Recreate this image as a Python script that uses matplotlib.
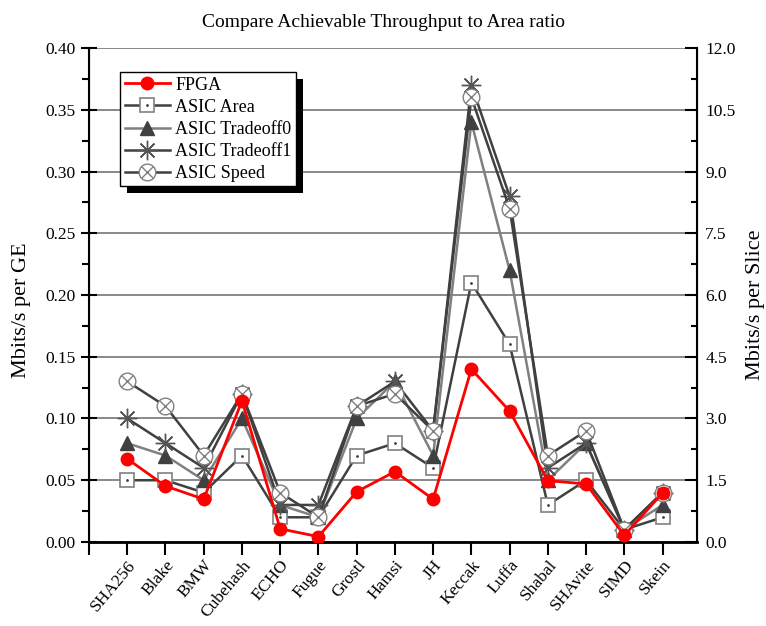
import numpy as np
import matplotlib.pyplot as plt
from matplotlib.ticker import MultipleLocator, FormatStrFormatter
from matplotlib.patches import Rectangle

plt.rcParams['font.family'] = ['Liberation Serif', 'DejaVu Serif']

algorithms = ['SHA256', 'Blake', 'BMW', 'Cubehash', 'ECHO', 'Fugue', 'Grostl',
              'Hamsi', 'JH', 'Keccak', 'Luffa', 'Shabal', 'SHAvite', 'SIMD', 'Skein']

# Mbits/s per GE (left axis)
asic_area = [0.05, 0.05, 0.04, 0.07, 0.02, 0.02, 0.07, 0.08, 0.06, 0.21, 0.16, 0.03, 0.05, 0.01, 0.02]
asic_tradeoff0 = [0.08, 0.07, 0.05, 0.10, 0.03, 0.02, 0.10, 0.13, 0.07, 0.34, 0.22, 0.05, 0.08, 0.01, 0.03]
asic_tradeoff1 = [0.10, 0.08, 0.06, 0.12, 0.03, 0.03, 0.11, 0.13, 0.09, 0.37, 0.28, 0.06, 0.08, 0.01, 0.04]
asic_speed = [0.13, 0.11, 0.07, 0.12, 0.04, 0.02, 0.11, 0.12, 0.09, 0.36, 0.27, 0.07, 0.09, 0.01, 0.04]

# Mbits/s per Slice (right axis)
fpga = [2.02, 1.36, 1.04, 3.43, 0.32, 0.13, 1.22, 1.71, 1.04, 4.20, 3.18, 1.49, 1.41, 0.16, 1.19]

x = np.arange(1, len(algorithms) + 1)
dark = '#404040'
mid = '#808080'

fig = plt.figure(figsize=(7.66, 6.26), dpi=100)
ax = fig.add_axes([0.1162, 0.1342, 0.7937, 0.7891])

# ASIC Area: hollow square with a dot
a1, = ax.plot(x, asic_area, color=dark, lw=1.8, marker='s', ms=9.5,
              mfc='white', mec=mid, mew=1.2, zorder=3)
a2, = ax.plot(x, asic_area, ls='none', marker='.', ms=2, color=dark, zorder=3.1)
# ASIC Tradeoff0
t0, = ax.plot(x, asic_tradeoff0, color=mid, lw=1.8, marker='^', ms=10,
              mfc=dark, mec=dark, zorder=3)
# ASIC Tradeoff1: asterisk
t1, = ax.plot(x, asic_tradeoff1, color=dark, lw=1.8, marker=(8, 2, 0), ms=14,
              mec='#555555', mew=1.0, zorder=3)
# ASIC Speed: circle with cross
s1, = ax.plot(x, asic_speed, color=dark, lw=1.8, marker='o', ms=12,
              mfc='white', mec=mid, mew=1.0, zorder=3)
s2, = ax.plot(x, asic_speed, ls='none', marker='x', ms=8.5, mec=mid, mew=1.0, zorder=3.1)

ax.set_xlim(0, 15.9)
ax.set_ylim(0, 0.40)
ax.set_xticks(np.arange(0, 16))
ax.set_xticklabels([''] + algorithms, rotation=50, ha='right', va='top',
                   rotation_mode='anchor', fontsize=12.5)
ax.yaxis.set_major_locator(MultipleLocator(0.05))
ax.yaxis.set_minor_locator(MultipleLocator(0.025))
ax.yaxis.set_major_formatter(FormatStrFormatter('%.2f'))
ax.yaxis.grid(True, color=mid, lw=1.3)
ax.set_axisbelow(True)
ax.tick_params(axis='y', which='major', direction='inout', length=12, width=1.5, labelsize=12.5)
ax.tick_params(axis='y', which='minor', direction='out', length=5, width=1.5)
ax.tick_params(axis='x', which='major', direction='out', length=9, width=1.5, pad=2)
ax.spines['top'].set_visible(False)
ax.spines['bottom'].set_linewidth(2)
ax.spines['left'].set_linewidth(1.5)
ax.set_ylabel('Mbits/s per GE', fontsize=16)
ax.yaxis.set_label_coords(-0.096, 0.47)

ax2 = ax.twinx()
f1, = ax2.plot(x, fpga, color='red', lw=2, marker='o', ms=9, mfc='red', mec='red', zorder=4)
ax2.set_ylim(0, 12.0)
ax2.yaxis.set_major_locator(MultipleLocator(1.5))
ax2.yaxis.set_minor_locator(MultipleLocator(0.75))
ax2.yaxis.set_major_formatter(FormatStrFormatter('%.1f'))
ax2.tick_params(axis='y', which='major', direction='in', length=9, width=1.5, labelsize=12.5, pad=6)
ax2.tick_params(axis='y', which='minor', direction='in', length=4, width=1.5)
ax2.spines['top'].set_visible(False)
ax2.spines['right'].set_linewidth(1.5)
ax2.set_ylabel('Mbits/s per Slice', fontsize=16)
ax2.yaxis.set_label_coords(1.081, 0.48)

fig.suptitle('Compare Achievable Throughput to Area ratio', fontsize=14, y=0.978)

leg = ax2.legend([f1, (a1, a2), t0, t1, (s1, s2)],
                 ['FPGA', 'ASIC Area', 'ASIC Tradeoff0', 'ASIC Tradeoff1', 'ASIC Speed'],
                 loc='upper left', bbox_to_anchor=(0.051, 0.951), borderaxespad=0,
                 fontsize=13, handlelength=2.5, labelspacing=0.28, handletextpad=0.3,
                 borderpad=0.25, fancybox=False, framealpha=1, edgecolor='black')
leg.get_frame().set_linewidth(1.0)

# solid black drop shadow behind the legend
fig.canvas.draw()
bb = leg.get_frame().get_window_extent().transformed(fig.transFigure.inverted())
dx, dy = 7 / 766, 7 / 626
shadow = Rectangle((bb.x0 + dx, bb.y0 - dy), bb.width, bb.height, transform=fig.transFigure,
                   facecolor='black', edgecolor='none')
ax2.add_artist(shadow)
shadow.set_zorder(4.5)
leg.set_zorder(5)

fig.savefig('out.png', dpi=100)
